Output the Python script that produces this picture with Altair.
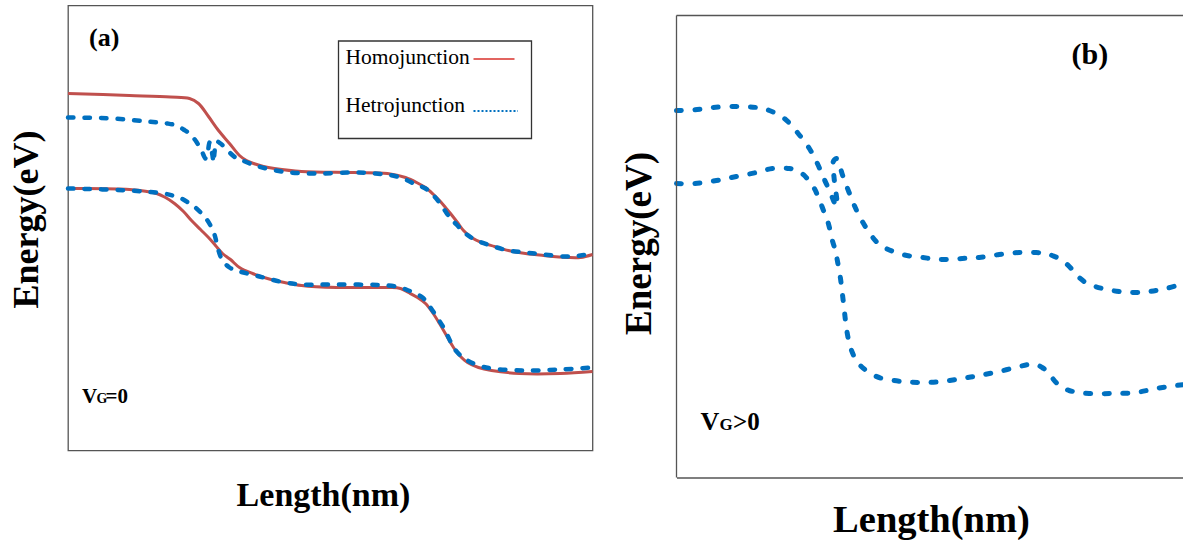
import altair as alt
import pandas as pd

# ---------------- data (x in nm, E in eV, arbitrary offsets) ----------------
A_HOMO_UP_X = [0, 6.15, 10.25, 12.15, 13.05, 14.05, 15.05, 16.15, 17.15, 17.85, 18.55, 19.55, 20.65, 23.35,
               28.55, 31.95, 33.75, 35.05, 35.75, 36.55, 37.15, 37.75, 38.25, 38.95, 39.55, 40.35, 41.35,
               42.65, 44.05, 45.75, 47.55, 49.95, 51.25, 52.45]
A_HOMO_UP_E = [3.57, 3.55, 3.535, 3.52, 3.47, 3.34, 3.20, 3.07, 2.95, 2.90, 2.87, 2.84, 2.82, 2.79,
               2.78, 2.77, 2.73, 2.67, 2.63, 2.56, 2.50, 2.43, 2.37, 2.28, 2.20, 2.13, 2.08,
               2.04, 2.00, 1.97, 1.95, 1.93, 1.93, 1.96]
A_HOMO_LO_X = [0, 6.15, 8.85, 9.75, 10.65, 11.55, 12.35, 13.25, 14.05, 14.75, 15.45, 16.25, 17.15, 18.45,
               19.95, 21.65, 23.35, 26.85, 32.05, 33.25, 34.05, 34.95, 35.75, 36.45, 37.15, 37.85, 38.55,
               39.25, 39.95, 41.05, 42.35, 45.15, 49.25, 52.45]
A_HOMO_LO_E = [2.62, 2.61, 2.57, 2.53, 2.47, 2.39, 2.30, 2.21, 2.13, 2.05, 1.97, 1.91, 1.83, 1.77,
               1.72, 1.68, 1.65, 1.63, 1.63, 1.62, 1.58, 1.53, 1.47, 1.38, 1.27, 1.15, 1.03,
               0.94, 0.88, 0.83, 0.80, 0.77, 0.77, 0.79]
A_HET_UP_X = [0, 4.45, 7.85, 9.95, 10.85, 11.55, 12.15, 12.75, 13.35, 13.75, 13.95, 14.15, 14.25, 14.45,
              14.55, 14.65, 14.85, 15.25, 16.05, 16.75, 17.45, 18.75, 20.25, 22.25, 25.25, 28.55, 30.75,
              32.45, 33.75, 34.75, 35.75, 36.65, 37.55, 38.25, 38.85, 39.75, 40.65, 42.25, 44.05, 45.75,
              47.55, 49.75, 51.25, 52.45]
A_HET_UP_E = [3.33, 3.32, 3.29, 3.27, 3.25, 3.21, 3.17, 3.10, 3.00, 2.92, 2.97, 3.08, 3.05, 2.95,
              2.88, 2.98, 3.09, 3.07, 2.99, 2.93, 2.90, 2.85, 2.81, 2.78, 2.77, 2.78, 2.77,
              2.75, 2.71, 2.66, 2.62, 2.54, 2.42, 2.32, 2.26, 2.17, 2.11, 2.05, 2.00, 1.98,
              1.96, 1.94, 1.95, 1.97]
A_HET_LO_X = [0, 6.15, 9.55, 10.45, 11.35, 12.15, 12.85, 13.45, 13.95, 14.35, 14.65, 14.85, 15.05, 15.45,
              16.15, 16.85, 17.55, 18.75, 19.95, 21.65, 23.35, 26.85, 32.05, 33.25, 34.05, 34.75, 35.45,
              35.95, 36.45, 37.05, 37.55, 38.05, 38.55, 39.25, 39.95, 41.05, 42.35, 45.75, 49.25, 52.45]
A_HET_LO_E = [2.62, 2.60, 2.57, 2.55, 2.52, 2.47, 2.42, 2.36, 2.30, 2.23, 2.16, 2.08, 2.00, 1.90,
              1.83, 1.80, 1.78, 1.75, 1.72, 1.68, 1.66, 1.66, 1.65, 1.63, 1.60, 1.57, 1.53,
              1.47, 1.40, 1.31, 1.23, 1.13, 1.03, 0.95, 0.90, 0.85, 0.82, 0.80, 0.81, 0.83]

B_UP_X = [0, 1.8, 3.6, 6.0, 8.0, 9.3, 10.8, 12.1, 13.3, 14.1, 14.8, 15.4, 15.8, 16.1, 16.0, 15.8, 15.7,
          15.7, 16.0, 16.3, 16.6, 17.0, 17.4, 17.8, 18.6, 19.5, 20.2, 21.0, 22.6, 24.6, 26.6, 28.6, 30.3,
          32.3, 34.3, 36.0, 37.0, 37.6, 38.3, 39.0, 39.6, 40.1, 40.8, 41.6, 43.6, 45.6, 47.3, 49.0, 50.8]
B_UP_E = [3.67, 3.677, 3.70, 3.71, 3.70, 3.67, 3.59, 3.45, 3.29, 3.14, 2.98, 2.85, 2.75, 2.71, 2.82, 2.97, 3.09,
          3.16, 3.19, 3.13, 3.03, 2.92, 2.82, 2.72, 2.56, 2.42, 2.34, 2.29, 2.23, 2.20, 2.18, 2.19, 2.20,
          2.23, 2.25, 2.25, 2.24, 2.22, 2.19, 2.14, 2.08, 2.02, 1.96, 1.92, 1.87, 1.85, 1.86, 1.89, 1.94]
B_LO_X = [0, 1.8, 4.0, 6.0, 8.0, 9.6, 11.3, 12.1, 12.8, 13.3, 13.8, 14.2, 14.6, 14.9, 15.2, 15.6, 15.9,
          16.1, 16.4, 16.6, 16.8, 17.0, 17.3, 17.6, 18.0, 18.5, 19.0, 19.8, 20.6, 22.6, 24.6, 26.6, 28.6,
          30.3, 32.3, 34.3, 35.3, 36.0, 36.6, 37.0, 37.5, 38.0, 38.6, 39.3, 40.3, 41.3, 43.6, 46.0, 48.0, 50.8]
B_LO_E = [2.94, 2.94, 2.97, 3.01, 3.05, 3.09, 3.09, 3.07, 3.02, 2.96, 2.89, 2.80, 2.70, 2.62, 2.54, 2.37, 2.27,
          2.17, 2.00, 1.84, 1.67, 1.50, 1.34, 1.25, 1.17, 1.11, 1.07, 1.02, 0.99, 0.96, 0.95, 0.96, 0.99,
          1.02, 1.06, 1.11, 1.13, 1.13, 1.10, 1.07, 1.01, 0.95, 0.90, 0.87, 0.85, 0.84, 0.84, 0.85, 0.89, 0.93]
B_FRAME_TOP = 4.62   # energy at the top edge of panel (b)'s frame

LEGEND_LABELS = ["Homojunction", "Hetrojunction"]
PANEL_LABELS = ["(a)", "(b)"]

RED = "#C0504D"
BLUE = "#0070C0"
FRAME = "#555555"
SERIF = "Liberation Serif"


def curve(xs, es, name):
    return pd.DataFrame({"x": xs, "E": es, "band": name, "i": list(range(len(xs)))})


one = pd.DataFrame({"k": [0]})


def label(text, x, y, size, weight="bold", align="left", color="black"):
    return alt.Chart(one).mark_text(text=text, font=SERIF, fontSize=size, fontWeight=weight,
                                    align=align, baseline="alphabetic", color=color).encode(
        x=alt.value(x), y=alt.value(y))


WA, HA = 524.5, 445
ax_a_x = alt.Axis(title="Length(nm)", labels=False, ticks=False, domain=False, grid=False,
                  titleFont=SERIF, titleFontSize=34, titleFontWeight="bold", titleColor="black",
                  titleBaseline="alphabetic", titlePadding=55, titleX=255)
ax_a_y = alt.Axis(title="Energy(eV)", labels=False, ticks=False, domain=False, grid=False,
                  titleFont=SERIF, titleFontSize=36, titleFontWeight="bold", titleColor="black",
                  titlePadding=22.5, titleY=213.5)
xa = alt.X("x:Q", scale=alt.Scale(domain=[0, 52.45], nice=False, zero=False), axis=ax_a_x)
ya = alt.Y("E:Q", scale=alt.Scale(domain=[0, 4.45], nice=False, zero=False), axis=ax_a_y)

homo_df = pd.concat([curve(A_HOMO_UP_X, A_HOMO_UP_E, "up"), curve(A_HOMO_LO_X, A_HOMO_LO_E, "lo")])
het_df = pd.concat([curve(A_HET_UP_X, A_HET_UP_E, "up"), curve(A_HET_LO_X, A_HET_LO_E, "lo")])

a_homo = alt.Chart(homo_df).mark_line(color=RED, strokeWidth=3, interpolate="catmull-rom").encode(
    x=xa, y=ya, detail="band:N", order="i:Q")
a_het = alt.Chart(het_df).mark_line(color=BLUE, strokeWidth=4.5, strokeDash=[5.5, 11], strokeCap="round",
                                    interpolate="catmull-rom").encode(
    x=xa, y=ya, detail="band:N", order="i:Q")

leg_box = alt.Chart(one).mark_rect(fill="white", stroke="#333333", strokeWidth=1.3).encode(
    x=alt.value(270.5), x2=alt.value(463.5), y=alt.value(35.5), y2=alt.value(133))
leg_t1 = label(LEGEND_LABELS[0], 277.5, 58, 21.5, weight="normal")
leg_t2 = label(LEGEND_LABELS[1], 277.5, 106, 21.5, weight="normal")
leg_l1 = alt.Chart(one).mark_rule(color="#D9312B", strokeWidth=1.5).encode(
    x=alt.value(405.5), x2=alt.value(446.5), y=alt.value(53.5))
leg_l2 = alt.Chart(one).mark_rule(color=BLUE, strokeWidth=1.8, strokeDash=[2, 2]).encode(
    x=alt.value(405.5), x2=alt.value(450), y=alt.value(105.5))

a_lab = label(PANEL_LABELS[0], 21, 40, 26)
a_v = label("V", 14, 397, 21)
a_g = label("G", 28.5, 397, 14)
a_eq = label("=0", 37.5, 397, 21)

panel_a = alt.layer(a_homo, a_het, leg_box, leg_t1, leg_t2, leg_l1, leg_l2, a_lab, a_v, a_g, a_eq).properties(
    width=WA, height=HA, view=alt.ViewBackground(stroke=FRAME, strokeWidth=1.3))

WB, HB = 507.5, 472
ax_b_x = alt.Axis(title="Length(nm)", labels=False, ticks=False, domain=True, domainColor=FRAME,
                  domainWidth=1.3, grid=False, titleFont=SERIF, titleFontSize=38.5, titleFontWeight="bold",
                  titleColor="black", titleBaseline="alphabetic", titlePadding=54, titleX=254.5)
ax_b_y = alt.Axis(title="Energy(eV)", labels=False, ticks=False, domain=False, grid=False,
                  titleFont=SERIF, titleFontSize=37, titleFontWeight="bold",
                  titleColor="black", titlePadding=18, titleY=237.5)
xb = alt.X("x:Q", scale=alt.Scale(domain=[0, 50.8], nice=False, zero=False), axis=ax_b_x)
yb = alt.Y("E:Q", scale=alt.Scale(domain=[0, 4.72], nice=False, zero=False), axis=ax_b_y)

b_df = pd.concat([curve(B_UP_X, B_UP_E, "up"), curve(B_LO_X, B_LO_E, "lo")])
b_lines = alt.Chart(b_df).mark_line(
    color=BLUE, strokeWidth=5, strokeDash=[5, 13.5], strokeCap="round", interpolate="catmull-rom").encode(
    x=xb, y=yb, detail="band:N", order="i:Q")

b_left = alt.Chart(one).mark_rule(color=FRAME, strokeWidth=1.3).encode(
    x=alt.value(0), y=alt.datum(B_FRAME_TOP), y2=alt.datum(0))
b_top = alt.Chart(one).mark_rule(color=FRAME, strokeWidth=1.3).encode(
    x=alt.value(0), x2=alt.value(WB), y=alt.datum(B_FRAME_TOP))

b_lab = label(PANEL_LABELS[1], 395, 58, 30)
b_v = label("V", 24, 424, 26)
b_g = label("G", 43, 424, 17)
b_eq = label(">0", 56.5, 424, 25)

panel_b = alt.layer(b_lines, b_left, b_top, b_lab, b_v, b_g, b_eq).properties(
    width=WB, height=HB, view=alt.ViewBackground(stroke="transparent"))

chart = alt.hconcat(panel_a, panel_b, spacing=16.5).properties(
    padding={"left": 7, "top": 4.5, "right": -12, "bottom": 0},
    background="white")

chart.save("out.html", embed_options={"renderer": "svg", "actions": False})
